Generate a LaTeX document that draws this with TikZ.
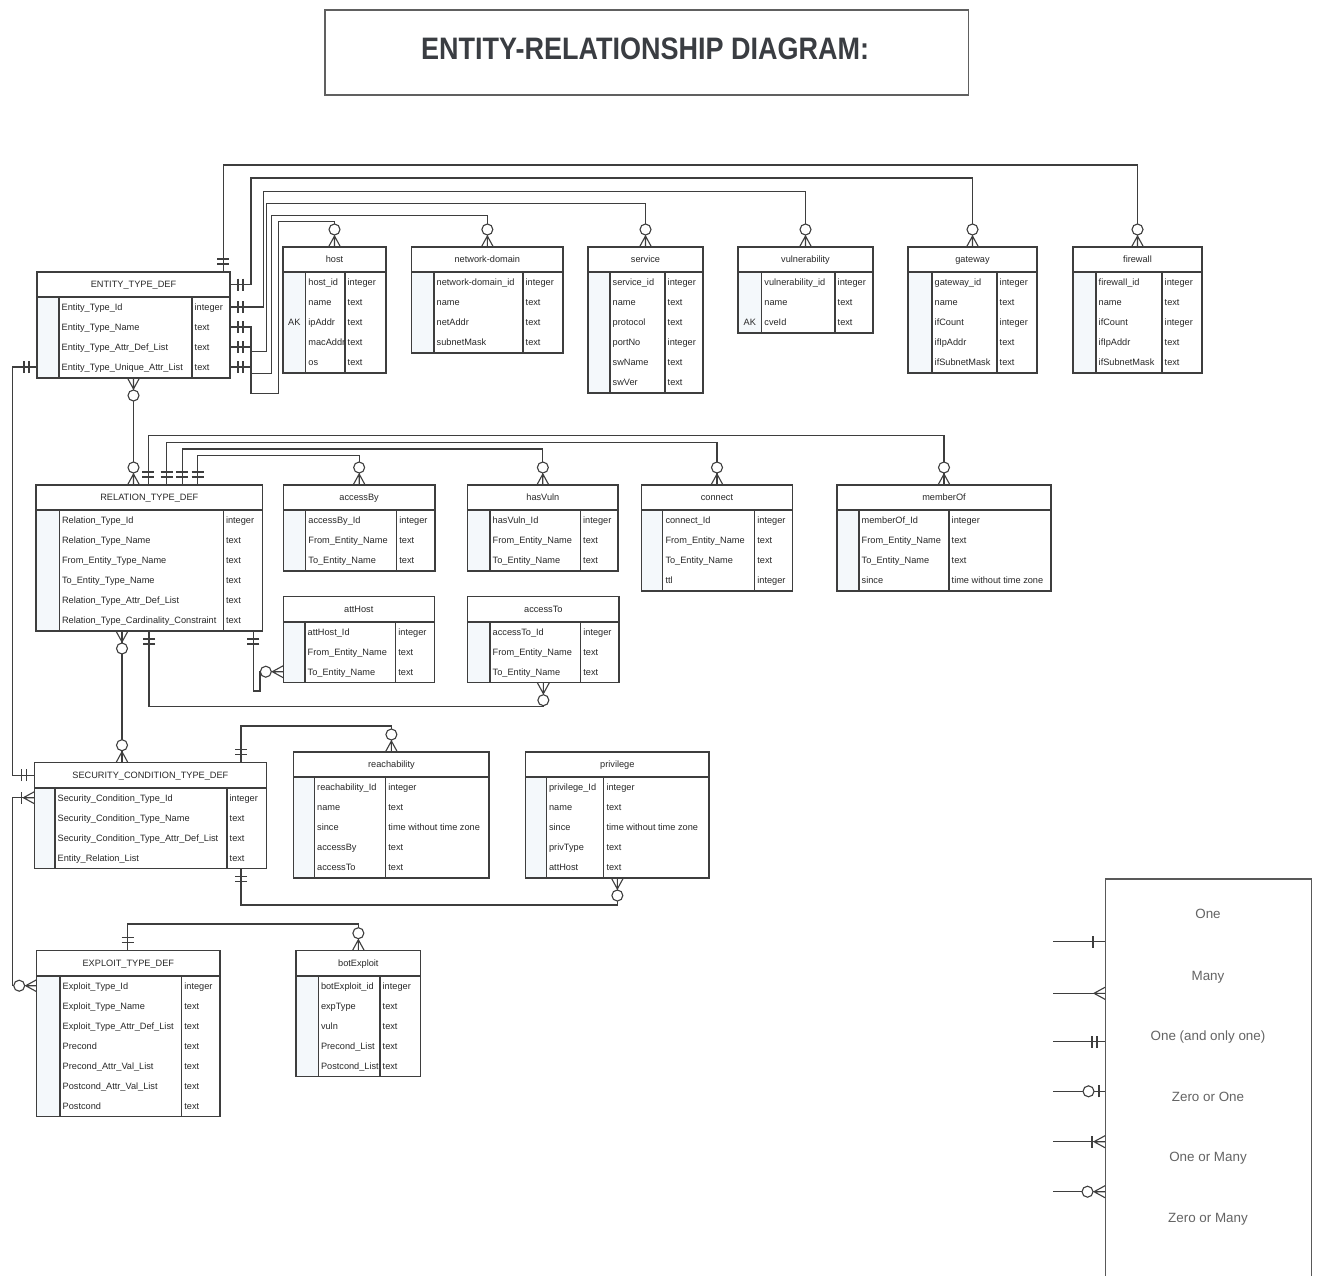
\documentclass[tikz,border=0pt]{standalone}
\usepackage{fontspec}
\setmainfont{Liberation Sans}
\usetikzlibrary{calc}
\definecolor{lncol}{RGB}{62,62,62}
\definecolor{keyfill}{RGB}{244,248,251}
\definecolor{txtcol}{RGB}{40,40,40}
\definecolor{titlecol}{RGB}{58,61,66}
\definecolor{legcol}{RGB}{100,100,100}
\tikzset{
  tbox/.style={draw=lncol, line width=1.3pt, fill=white, inner sep=0pt, outer sep=0pt, anchor=north west},
  tline/.style={draw=lncol, line width=1.1pt},
  conn/.style={draw=lncol, line width=1.1pt},
  ftext/.style={font=\fontsize{9.2}{10}\selectfont, text=txtcol, inner sep=0pt, anchor=base west},
  htext/.style={font=\fontsize{9.2}{10}\selectfont, text=txtcol, inner sep=0pt, anchor=base},
  legtext/.style={font=\fontsize{13.4}{15}\selectfont, text=legcol, inner sep=0pt},
  pics/zm/.style={code={\draw[conn] (11,0) -- (0,6) (11,0) -- (0,-6) (11,0) -- (0,0); \draw[conn,fill=white] (17.5,0) circle (5.5pt);}},
  pics/om/.style={code={\draw[conn] (11,0) -- (0,6) (11,0) -- (0,-6) (11,0) -- (0,0); \draw[conn] (13,-6) -- (13,6);}},
  pics/oo/.style={code={\draw[conn] (8,-6) -- (8,6) (13,-6) -- (13,6);}},
  pics/zo/.style={code={\draw[conn] (6,-6) -- (6,6); \draw[conn,fill=white] (16.5,0) circle (5.5pt);}},
  pics/one/.style={code={\draw[conn] (12,-6) -- (12,6);}},
  pics/many/.style={code={\draw[conn] (11,0) -- (0,6) (11,0) -- (0,-6) (11,0) -- (0,0);}},
}
% table: name, left, top, right, nrows, keydiv, typediv, title
\newcommand\ertbl[8]{%
  \expandafter\xdef\csname erL#1\endcsname{#2}%
  \expandafter\xdef\csname erT#1\endcsname{#3}%
  \expandafter\xdef\csname erK#1\endcsname{#6}%
  \expandafter\xdef\csname erY#1\endcsname{#7}%
  \pgfmathsetmacro\tw{#4-#2}%
  \pgfmathsetmacro\thh{26+20*#5}%
  \pgfmathsetmacro\hb{#3+25}%
  \pgfmathsetmacro\bt{#3+\thh}%
  \pgfmathsetmacro\hc{(#2+#4)/2}%
  \pgfmathsetmacro\hy{#3+12.5}%
  \node[tbox, minimum width=\tw pt, minimum height=\thh pt] (#1) at (#2,#3) {};
  \fill[keyfill] (#2,\hb) rectangle (#6,\bt);
  \draw[tline] (#6,\hb) -- (#6,\bt) (#7,\hb) -- (#7,\bt);
  \draw[draw=lncol, line width=1.7pt] (#2,\hb) -- (#4,\hb);
  \draw[draw=lncol, line width=1.3pt] (#1.north west) rectangle (#1.south east);
  \coordinate (#1-h) at (#2,\hy);
  \node[htext] (#1-t) at (\hc,\hy+3.3) {#8};
}
% row: table, index, key, field, type
\newcommand\erow[5]{%
  \edef\rL{\csname erL#1\endcsname}\edef\rT{\csname erT#1\endcsname}%
  \edef\rK{\csname erK#1\endcsname}\edef\rY{\csname erY#1\endcsname}%
  \pgfmathsetmacro\ry{\rT+35+20*(#2-1)}%
  \pgfmathsetmacro\rkx{(\rL+\rK)/2}%
  \coordinate (#1-r#2) at (\rL,\ry);
  \node[ftext] (#1-f#2) at (\rK+2.5,\ry+3.3) {#4};
  \node[ftext] (#1-y#2) at (\rY+2.5,\ry+3.3) {#5};
  \if\relax\detokenize{#3}\relax\else\node[htext] (#1-k#2) at (\rkx,\ry+3.3) {#3};\fi
}
\begin{document}
\begin{tikzpicture}[x=1pt,y=-1pt]
\useasboundingbox (0,0) rectangle (1320,1275);
\fill[white] (0,0) rectangle (1320,1275);

% title
\node[draw=gray!75!black, line width=1.5pt, minimum width=643.5pt, minimum height=85pt, anchor=north west, inner sep=0pt] (titlebox) at (324,9) {};
\node[font=\bfseries\fontsize{27}{30}\selectfont, text=titlecol, inner sep=0pt] (title) at (645,48.5) {\scalebox{1}[1.15]{ENTITY-RELATIONSHIP DIAGRAM:}};

% ---------------- tables ----------------
\ertbl{etd}{37}{272}{230}{4}{59}{192}{ENTITY\_TYPE\_DEF}
\erow{etd}{1}{}{Entity\_Type\_Id}{integer}
\erow{etd}{2}{}{Entity\_Type\_Name}{text}
\erow{etd}{3}{}{Entity\_Type\_Attr\_Def\_List}{text}
\erow{etd}{4}{}{Entity\_Type\_Unique\_Attr\_List}{text}

\ertbl{host}{283}{247}{386}{5}{305.7}{345}{host}
\erow{host}{1}{}{host\_id}{integer}
\erow{host}{2}{}{name}{text}
\erow{host}{3}{AK}{ipAddr}{text}
\erow{host}{4}{}{macAddr}{text}
\erow{host}{5}{}{os}{text}

\ertbl{nd}{411.7}{247}{563}{4}{434}{523}{network-domain}
\erow{nd}{1}{}{network-domain\_id}{integer}
\erow{nd}{2}{}{name}{text}
\erow{nd}{3}{}{netAddr}{text}
\erow{nd}{4}{}{subnetMask}{text}

\ertbl{service}{588}{247}{703}{6}{610}{665}{service}
\erow{service}{1}{}{service\_id}{integer}
\erow{service}{2}{}{name}{text}
\erow{service}{3}{}{protocol}{text}
\erow{service}{4}{}{portNo}{integer}
\erow{service}{5}{}{swName}{text}
\erow{service}{6}{}{swVer}{text}

\ertbl{vuln}{738}{247}{873}{3}{761.7}{835}{vulnerability}
\erow{vuln}{1}{}{vulnerability\_id}{integer}
\erow{vuln}{2}{}{name}{text}
\erow{vuln}{3}{AK}{cveId}{text}

\ertbl{gateway}{908}{247}{1037}{5}{932}{997}{gateway}
\erow{gateway}{1}{}{gateway\_id}{integer}
\erow{gateway}{2}{}{name}{text}
\erow{gateway}{3}{}{ifCount}{integer}
\erow{gateway}{4}{}{ifIpAddr}{text}
\erow{gateway}{5}{}{ifSubnetMask}{text}

\ertbl{firewall}{1073}{247}{1202}{5}{1096}{1162}{firewall}
\erow{firewall}{1}{}{firewall\_id}{integer}
\erow{firewall}{2}{}{name}{text}
\erow{firewall}{3}{}{ifCount}{integer}
\erow{firewall}{4}{}{ifIpAddr}{text}
\erow{firewall}{5}{}{ifSubnetMask}{text}

\ertbl{rtd}{36}{485}{262.7}{6}{59.3}{223.3}{RELATION\_TYPE\_DEF}
\erow{rtd}{1}{}{Relation\_Type\_Id}{integer}
\erow{rtd}{2}{}{Relation\_Type\_Name}{text}
\erow{rtd}{3}{}{From\_Entity\_Type\_Name}{text}
\erow{rtd}{4}{}{To\_Entity\_Type\_Name}{text}
\erow{rtd}{5}{}{Relation\_Type\_Attr\_Def\_List}{text}
\erow{rtd}{6}{}{Relation\_Type\_Cardinality\_Constraint}{text}

\ertbl{accessby}{283.3}{485}{435}{3}{305.7}{396.7}{accessBy}
\erow{accessby}{1}{}{accessBy\_Id}{integer}
\erow{accessby}{2}{}{From\_Entity\_Name}{text}
\erow{accessby}{3}{}{To\_Entity\_Name}{text}

\ertbl{hasvuln}{467.7}{485}{618}{3}{490}{580.5}{hasVuln}
\erow{hasvuln}{1}{}{hasVuln\_Id}{integer}
\erow{hasvuln}{2}{}{From\_Entity\_Name}{text}
\erow{hasvuln}{3}{}{To\_Entity\_Name}{text}

\ertbl{connect}{641.8}{485}{792.2}{4}{662.8}{754.7}{connect}
\erow{connect}{1}{}{connect\_Id}{integer}
\erow{connect}{2}{}{From\_Entity\_Name}{text}
\erow{connect}{3}{}{To\_Entity\_Name}{text}
\erow{connect}{4}{}{ttl}{integer}

\ertbl{memberof}{837}{485}{1051}{4}{859}{949}{memberOf}
\erow{memberof}{1}{}{memberOf\_Id}{integer}
\erow{memberof}{2}{}{From\_Entity\_Name}{text}
\erow{memberof}{3}{}{To\_Entity\_Name}{text}
\erow{memberof}{4}{}{since}{time without time zone}

\ertbl{atthost}{283.3}{596.7}{434.3}{3}{305}{395.7}{attHost}
\erow{atthost}{1}{}{attHost\_Id}{integer}
\erow{atthost}{2}{}{From\_Entity\_Name}{text}
\erow{atthost}{3}{}{To\_Entity\_Name}{text}

\ertbl{accessto}{467.7}{596.7}{619}{3}{490}{580.7}{accessTo}
\erow{accessto}{1}{}{accessTo\_Id}{integer}
\erow{accessto}{2}{}{From\_Entity\_Name}{text}
\erow{accessto}{3}{}{To\_Entity\_Name}{text}

\ertbl{sctd}{34.4}{762.7}{266.3}{4}{55}{227}{SECURITY\_CONDITION\_TYPE\_DEF}
\erow{sctd}{1}{}{Security\_Condition\_Type\_Id}{integer}
\erow{sctd}{2}{}{Security\_Condition\_Type\_Name}{text}
\erow{sctd}{3}{}{Security\_Condition\_Type\_Attr\_Def\_List}{text}
\erow{sctd}{4}{}{Entity\_Relation\_List}{text}

\ertbl{reach}{293.8}{752}{489}{5}{314.5}{385.7}{reachability}
\erow{reach}{1}{}{reachability\_Id}{integer}
\erow{reach}{2}{}{name}{text}
\erow{reach}{3}{}{since}{time without time zone}
\erow{reach}{4}{}{accessBy}{text}
\erow{reach}{5}{}{accessTo}{text}

\ertbl{priv}{525.7}{752}{709}{5}{546.4}{603.8}{privilege}
\erow{priv}{1}{}{privilege\_Id}{integer}
\erow{priv}{2}{}{name}{text}
\erow{priv}{3}{}{since}{time without time zone}
\erow{priv}{4}{}{privType}{text}
\erow{priv}{5}{}{attHost}{text}

\ertbl{exploit}{36.7}{950.7}{220}{7}{60}{181.7}{EXPLOIT\_TYPE\_DEF}
\erow{exploit}{1}{}{Exploit\_Type\_Id}{integer}
\erow{exploit}{2}{}{Exploit\_Type\_Name}{text}
\erow{exploit}{3}{}{Exploit\_Type\_Attr\_Def\_List}{text}
\erow{exploit}{4}{}{Precond}{text}
\erow{exploit}{5}{}{Precond\_Attr\_Val\_List}{text}
\erow{exploit}{6}{}{Postcond\_Attr\_Val\_List}{text}
\erow{exploit}{7}{}{Postcond}{text}

\ertbl{botexploit}{296}{950.7}{420.7}{5}{318.3}{380}{botExploit}
\erow{botexploit}{1}{}{botExploit\_id}{integer}
\erow{botexploit}{2}{}{expType}{text}
\erow{botexploit}{3}{}{vuln}{text}
\erow{botexploit}{4}{}{Precond\_List}{text}
\erow{botexploit}{5}{}{Postcond\_List}{text}

% ---------------- routing coordinates ----------------
\coordinate (lft) at (12.7,0);
\coordinate (g1) at (251,178);
\coordinate (v1) at (263.3,191.7);
\coordinate (s1) at (251,351.7);
\coordinate (s2) at (266.7,203.3);
\coordinate (n1) at (251,373.3);
\coordinate (n2) at (271.7,215.7);
\coordinate (h1) at (251,393.3);
\coordinate (h2) at (278.3,221.7);
\coordinate (a1) at (260,691);
\coordinate (fw1) at ([xshift=186.3pt]etd.north west);
\coordinate (rt1) at ([xshift=112.3pt]rtd.north west);
\coordinate (rt2) at ([xshift=130.7pt]rtd.north west);
\coordinate (rt3) at ([xshift=146.3pt]rtd.north west);
\coordinate (rt4) at ([xshift=161.7pt]rtd.north west);
\coordinate (rb1) at ([xshift=113pt]rtd.south west);
\coordinate (rb2) at ([xshift=217.3pt]rtd.south west);
\coordinate (sc1) at ([xshift=87.6pt]sctd.north west);
\coordinate (sc2) at ([xshift=206.6pt]sctd.north west);
\coordinate (sc3) at ([xshift=206.6pt]sctd.south west);
\coordinate (ex1) at ([xshift=91pt]exploit.north west);

% ---------------- connectors ----------------
% ENTITY_TYPE_DEF to entities
\draw[conn] (fw1) |- ([yshift=82pt]firewall.north) -- (firewall.north);
\draw[conn] (etd-h -| etd.east) -| (g1) -| (gateway.north);
\draw[conn] (etd-r1 -| etd.east) -| (v1) -| (vuln.north);
\draw[conn] (etd-r2 -| etd.east) -| (s1) -| (s2) -| (service.north);
\draw[conn] (etd-r3 -| etd.east) -| (n1) -| (n2) -| (nd.north);
\draw[conn] (etd-r4 -| etd.east) -| (h1) -| (h2) -| (host.north);
\pic[rotate=90] at (fw1) {oo};
\pic at (etd-h -| etd.east) {oo};
\pic at (etd-r1 -| etd.east) {oo};
\pic at (etd-r2 -| etd.east) {oo};
\pic at (etd-r3 -| etd.east) {oo};
\pic at (etd-r4 -| etd.east) {oo};
\pic[rotate=90] at (firewall.north) {zm};
\pic[rotate=90] at (gateway.north) {zm};
\pic[rotate=90] at (vuln.north) {zm};
\pic[rotate=90] at (service.north) {zm};
\pic[rotate=90] at (nd.north) {zm};
\pic[rotate=90] at (host.north) {zm};

% ENTITY_TYPE_DEF to RELATION_TYPE_DEF
\draw[conn] (etd.south) -- (etd.south |- rtd.north);
\pic[rotate=-90] at (etd.south) {zm};
\pic[rotate=90] at (etd.south |- rtd.north) {zm};

% left side
\draw[conn] (etd-r4) -| (lft |- sctd-h) -- (sctd-h);
\pic[rotate=180] at (etd-r4) {oo};
\pic[rotate=180] at (sctd-h) {oo};
\draw[conn] (sctd-r1) -| (lft |- exploit-r1) -- (exploit-r1);
\pic[rotate=180] at (sctd-r1) {om};
\pic[rotate=180] at (exploit-r1) {zm};

% RELATION_TYPE_DEF to relations
\draw[conn] (rt1) |- ([yshift=49.3pt]memberof.north) -- (memberof.north);
\draw[conn] (rt2) |- ([yshift=42.7pt]connect.north) -- (connect.north);
\draw[conn] (rt3) |- ([yshift=36pt]hasvuln.north) -- (hasvuln.north);
\draw[conn] (rt4) |- ([yshift=29.3pt]accessby.north) -- (accessby.north);
\pic[rotate=90] at (rt1) {oo};
\pic[rotate=90] at (rt2) {oo};
\pic[rotate=90] at (rt3) {oo};
\pic[rotate=90] at (rt4) {oo};
\pic[rotate=90] at (memberof.north) {zm};
\pic[rotate=90] at (connect.north) {zm};
\pic[rotate=90] at (hasvuln.north) {zm};
\pic[rotate=90] at (accessby.north) {zm};

\draw[conn] (rb1) |- ([yshift=-23.5pt]accessto.south) -- (accessto.south);
\pic[rotate=-90] at (rb1) {oo};
\pic[rotate=-90] at (accessto.south) {zm};
\draw[conn] (rb2) |- (a1) |- (atthost-r3);
\pic[rotate=-90] at (rb2) {oo};
\pic[rotate=180] at (atthost-r3) {zm};

% SECURITY_CONDITION_TYPE_DEF
\draw[conn] (sc1) -- (sc1 |- rtd.south);
\pic[rotate=90] at (sc1) {zm};
\pic[rotate=-90] at (sc1 |- rtd.south) {zm};
\draw[conn] (sc2) |- ([yshift=26pt]reach.north) -- (reach.north);
\pic[rotate=90] at (sc2) {oo};
\pic[rotate=90] at (reach.north) {zm};
\draw[conn] (sc3) |- ([yshift=-27pt]priv.south) -- (priv.south);
\pic[rotate=-90] at (sc3) {oo};
\pic[rotate=-90] at (priv.south) {zm};

% EXPLOIT_TYPE_DEF to botExploit
\draw[conn] (ex1) |- ([yshift=26.7pt]botexploit.north) -- (botexploit.north);
\pic[rotate=90] at (ex1) {oo};
\pic[rotate=90] at (botexploit.north) {zm};

% ---------------- legend ----------------
\node[draw=gray!70!black, line width=1.3pt, minimum width=205.7pt, minimum height=420pt, anchor=north west, inner sep=0pt] (legend) at (1105,878.3) {};
\node[legtext] (lt1) at (1208,914) {One};
\node[legtext] (lt2) at (1208,977) {Many};
\node[legtext] (lt3) at (1208,1037) {One (and only one)};
\node[legtext] (lt4) at (1208,1097) {Zero or One};
\node[legtext] (lt5) at (1208,1158) {One or Many};
\node[legtext] (lt6) at (1208,1219) {Zero or Many};
\coordinate (lg1) at (1053,941.7);
\coordinate (lg2) at (1053,993.3);
\coordinate (lg3) at (1053,1041.7);
\coordinate (lg4) at (1053,1091.3);
\coordinate (lg5) at (1053,1141.7);
\coordinate (lg6) at (1053,1191.7);
\draw[conn] (lg1) -- (lg1 -| legend.west);
\draw[conn] (lg2) -- (lg2 -| legend.west);
\draw[conn] (lg3) -- (lg3 -| legend.west);
\draw[conn] (lg4) -- (lg4 -| legend.west);
\draw[conn] (lg5) -- (lg5 -| legend.west);
\draw[conn] (lg6) -- (lg6 -| legend.west);
\pic[rotate=180] at (lg1 -| legend.west) {one};
\pic[rotate=180] at (lg2 -| legend.west) {many};
\pic[rotate=180] at (lg3 -| legend.west) {oo};
\pic[rotate=180] at (lg4 -| legend.west) {zo};
\pic[rotate=180] at (lg5 -| legend.west) {om};
\pic[rotate=180] at (lg6 -| legend.west) {zm};
\end{tikzpicture}
\end{document}
